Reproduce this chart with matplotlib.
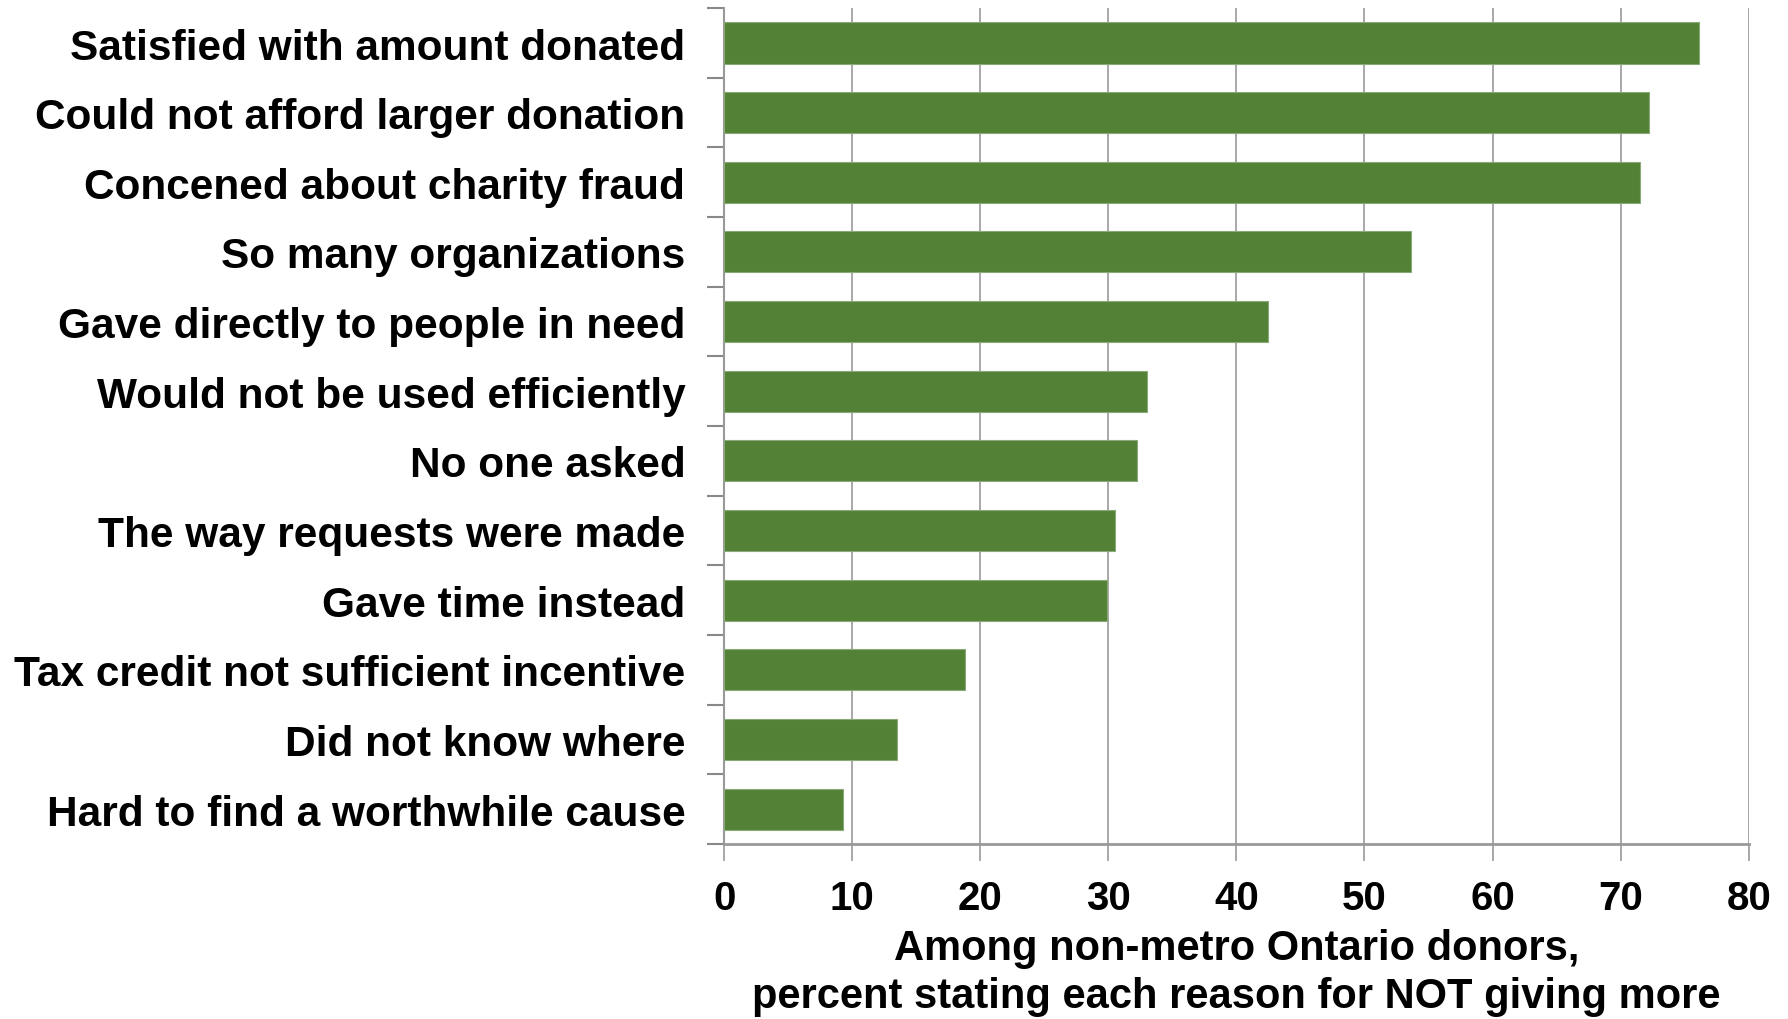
import matplotlib
matplotlib.use("Agg")
import matplotlib.pyplot as plt
import numpy as np

categories = [
    "Satisfied with amount donated",
    "Could not afford larger donation",
    "Concened about charity fraud",
    "So many organizations",
    "Gave directly to people in need",
    "Would not be used efficiently",
    "No one asked",
    "The way requests were made",
    "Gave time instead",
    "Tax credit not sufficient incentive",
    "Did not know where",
    "Hard to find a worthwhile cause",
]
values = [76.1, 72.2, 71.5, 53.6, 42.5, 33.0, 32.2, 30.5, 29.9, 18.8, 13.5, 9.3]
xticks = [0, 10, 20, 30, 40, 50, 60, 70, 80]

plt.rcParams['font.family'] = ['Liberation Sans', 'DejaVu Sans']

fig = plt.figure(figsize=(17.88, 10.20), dpi=100)
ax = fig.add_axes([0.405, 0.1716, 0.573, 0.8194])

n = len(categories)
y = np.arange(n)
ax.barh(y, values, height=0.59, color='#538135', edgecolor='#8aa97a', linewidth=0.8, zorder=3)
ax.set_ylim(n - 0.5, -0.5)
ax.set_xlim(0, 80)

ax.set_xticks(xticks)
ax.set_xticklabels([str(t) for t in xticks], fontsize=29, fontweight='bold')
ax.set_yticks(y)
ax.set_yticklabels(categories, fontsize=30.5, fontweight='bold')
ax.tick_params(axis='y', length=0, pad=28)
ax.set_yticks(np.arange(-0.5, n, 1.0), minor=True)
ax.tick_params(axis='y', which='minor', length=12, width=1.5, color='#888888', direction='out')
ax.tick_params(axis='x', length=12, width=1.2, color='#999999', direction='out', pad=13)

ax.grid(axis='x', color='#999999', linewidth=1.2, zorder=0)
for s in ['top', 'right']:
    ax.spines[s].set_visible(False)
ax.spines['left'].set_color('#999999')
ax.spines['left'].set_linewidth(1.5)
ax.spines['bottom'].set_color('#999999')
ax.spines['bottom'].set_linewidth(2)

ax.set_xlabel("Among non-metro Ontario donors,\npercent stating each reason for NOT giving more",
              fontsize=30, fontweight='bold', labelpad=8, linespacing=1.25)

fig.savefig("out.png", dpi=100)
